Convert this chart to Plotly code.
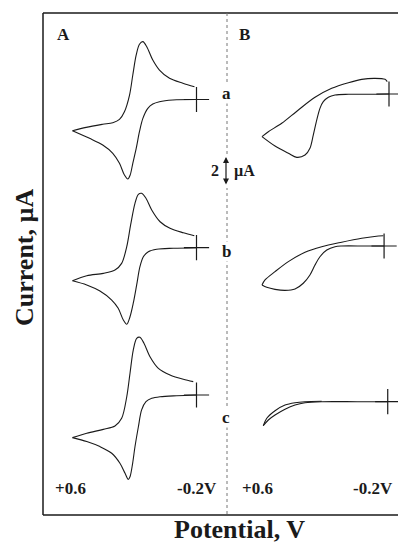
import plotly.graph_objects as go

# ---------------- data (potential in V, current in µA) ----------------
A_a_fwd_E = [-0.20, -0.047, 0.039, 0.082, 0.114, 0.146, 0.168, 0.189, 0.211, 0.228, 0.243, 0.265, 0.297, 0.340, 0.405, 0.490, 0.600]
A_a_fwd_I = [0.0, -0.03, -0.15, -0.31, -0.61, -1.30, -2.22, -3.37, -4.40, -5.21, -5.48, -5.21, -4.40, -3.71, -3.14, -2.68, -2.15]
A_a_rev_E = [0.512, 0.405, 0.340, 0.297, 0.265, 0.232, 0.211, 0.189, 0.168, 0.146, 0.121, 0.082, 0.039, -0.026, -0.112, -0.187]
A_a_rev_I = [-1.92, -1.71, -1.60, -1.37, -0.84, 0.31, 1.69, 3.07, 3.81, 3.99, 3.64, 2.72, 2.03, 1.46, 1.12, 0.88]

A_b_fwd_E = [-0.20, -0.050, 0.057, 0.111, 0.143, 0.165, 0.186, 0.208, 0.229, 0.250, 0.272, 0.305, 0.347, 0.423, 0.508, 0.600]
A_b_fwd_I = [0.0, -0.04, -0.11, -0.28, -0.62, -1.31, -2.57, -3.83, -4.76, -5.28, -4.99, -4.18, -3.61, -2.99, -2.57, -2.28]
A_b_rev_E = [0.508, 0.401, 0.326, 0.283, 0.250, 0.225, 0.197, 0.175, 0.154, 0.126, 0.089, 0.035, -0.029, -0.115, -0.186]
A_b_rev_I = [-1.93, -1.77, -1.54, -1.08, 0.07, 1.57, 3.06, 3.68, 3.75, 3.41, 2.60, 1.79, 1.34, 1.03, 0.83]

A_c_fwd_E = [-0.20, -0.072, 0.035, 0.089, 0.126, 0.154, 0.175, 0.197, 0.212, 0.229, 0.240, 0.261, 0.294, 0.347, 0.423, 0.508, 0.600]
A_c_fwd_I = [0.0, -0.05, -0.12, -0.23, -0.46, -1.03, -2.19, -3.57, -4.71, -5.64, -5.82, -5.40, -4.71, -4.02, -3.56, -3.21, -2.94]
A_c_rev_E = [0.508, 0.401, 0.326, 0.283, 0.250, 0.229, 0.208, 0.186, 0.165, 0.139, 0.100, 0.046, -0.029, -0.115, -0.179]
A_c_rev_I = [-2.64, -2.37, -2.14, -1.61, -0.12, 1.50, 3.10, 3.91, 3.98, 3.57, 2.64, 1.84, 1.38, 1.08, 0.92]

B_a_fwd_E = [-0.20, -0.070, 0.056, 0.140, 0.182, 0.214, 0.235, 0.255, 0.277, 0.298, 0.329, 0.381, 0.434, 0.518, 0.600]
B_a_fwd_I = [0.0, -0.02, -0.02, -0.07, -0.23, -0.53, -0.99, -1.79, -2.83, -3.74, -4.21, -4.37, -4.09, -3.59, -2.94]
B_a_rev_E = [0.560, 0.476, 0.371, 0.266, 0.161, 0.056, -0.028, -0.112, -0.175, -0.189]
B_a_rev_I = [-2.60, -2.02, -1.10, -0.23, 0.39, 0.78, 1.01, 1.08, 1.01, 0.85]

B_b_fwd_E = [-0.169, -0.049, 0.098, 0.140, 0.192, 0.235, 0.266, 0.298, 0.340, 0.392, 0.455, 0.518, 0.570, 0.600]
B_b_fwd_I = [0.0, 0.0, 0.0, -0.05, -0.28, -0.74, -1.31, -2.00, -2.57, -2.97, -3.06, -2.99, -2.85, -2.69]
B_b_rev_E = [0.581, 0.518, 0.434, 0.329, 0.224, 0.098, -0.028, -0.133, -0.164]
B_b_rev_I = [-2.34, -1.77, -1.08, -0.43, -0.05, 0.26, 0.53, 0.69, 0.71]

B_c_fwd_E = [-0.192, 0.000, 0.224, 0.329, 0.392, 0.455, 0.518, 0.560, 0.592]
B_c_fwd_I = [0.0, 0.0, 0.0, -0.07, -0.23, -0.52, -0.92, -1.26, -1.66]
B_c_rev_E = [0.570, 0.518, 0.455, 0.392, 0.329, 0.224]
B_c_rev_I = [-1.14, -0.62, -0.23, -0.07, 0.0, 0.03]

panel_labels = ["A", "B"]
trace_labels = ["a", "b", "c"]
potential_labels = ["+0.6", "-0.2V"]
x_title = "Potential, V"
y_title = "Current, µA"
scale_value = "2"
scale_unit = "µA"

# ---------------- layout geometry (pixels) ----------------
W, H = 398, 543
FONT = "Liberation Serif"
INK = "#1a1a1a"

def px(x):
    return x / W

def py(y):
    return 1 - y / H

PX_PER_UA = 14.5
xA = dict(left=43, right=227, tip=72.5, ppv=155.0)
xB = dict(left=227, right=398, tip=262.0, ppv=158.75)

def xrange(p):
    return [0.6 + (p["tip"] - p["left"]) / p["ppv"], 0.6 - (p["right"] - p["tip"]) / p["ppv"]]

def yrange(zero_px):
    return [(zero_px - H) / PX_PER_UA, zero_px / PX_PER_UA]

zeros = {"y": 99.5, "y2": 247.7, "y3": 395.0, "y4": 94.0, "y5": 246.0, "y6": 401.7}

curves = [
    ("x", "y", A_a_fwd_E, A_a_fwd_I, A_a_rev_E, A_a_rev_I),
    ("x", "y2", A_b_fwd_E, A_b_fwd_I, A_b_rev_E, A_b_rev_I),
    ("x", "y3", A_c_fwd_E, A_c_fwd_I, A_c_rev_E, A_c_rev_I),
    ("x2", "y4", B_a_fwd_E, B_a_fwd_I, B_a_rev_E, B_a_rev_I),
    ("x2", "y5", B_b_fwd_E, B_b_fwd_I, B_b_rev_E, B_b_rev_I),
    ("x2", "y6", B_c_fwd_E, B_c_fwd_I, B_c_rev_E, B_c_rev_I),
]

fig = go.Figure()
for xa, ya, fE, fI, rE, rI in curves:
    line = dict(color=INK, width=1.1, shape="spline", smoothing=0.9)
    fig.add_trace(go.Scatter(x=fE, y=fI, xaxis=xa, yaxis=ya, mode="lines",
                             line=line, hoverinfo="skip", showlegend=False))
    fig.add_trace(go.Scatter(x=[fE[-1]] + rE, y=[fI[-1]] + rI, xaxis=xa, yaxis=ya,
                             mode="lines", line=line, hoverinfo="skip", showlegend=False))
    fig.add_trace(go.Scatter(x=[fE[0]], y=[fI[0]], xaxis=xa, yaxis=ya, mode="markers",
                             marker=dict(symbol="cross-thin", size=18,
                                         line=dict(color=INK, width=1.2)),
                             hoverinfo="skip", showlegend=False))

layout = dict(
    width=W, height=H,
    margin=dict(l=0, r=0, t=0, b=0),
    paper_bgcolor="white", plot_bgcolor="rgba(0,0,0,0)",
    font=dict(family=FONT, color=INK),
    xaxis=dict(domain=[px(xA["left"]), px(xA["right"])], range=xrange(xA),
               visible=False, anchor="y"),
    xaxis2=dict(domain=[px(xB["left"]), px(xB["right"])], range=xrange(xB),
                visible=False, anchor="y4"),
)
for name, z in zeros.items():
    key = "yaxis" if name == "y" else "yaxis" + name[1:]
    anchor = "x" if name in ("y", "y2", "y3") else "x2"
    layout[key] = dict(domain=[0, 1], range=yrange(z), visible=False, anchor=anchor)
fig.update_layout(**layout)

# frame
top, bottom = 13, 515
frame = dict(type="line", xref="paper", yref="paper", line=dict(color=INK, width=1.5))
fig.add_shape(**frame, x0=px(43), x1=px(43), y0=py(top), y1=py(bottom))
fig.add_shape(**frame, x0=px(43), x1=1, y0=py(top), y1=py(top))
fig.add_shape(**frame, x0=px(43), x1=1, y0=py(bottom), y1=py(bottom))
fig.add_shape(type="line", xref="paper", yref="paper", x0=px(227), x1=px(227),
              y0=py(top), y1=py(bottom), line=dict(color="#777777", width=1, dash="dot"))

def label(text, x, y, size, bg=None, angle=0):
    fig.add_annotation(text="<b>%s</b>" % text, x=px(x), y=py(y), xref="paper", yref="paper",
                       showarrow=False, xanchor="center", yanchor="middle", textangle=angle,
                       font=dict(family=FONT, size=size, color=INK),
                       bgcolor=bg, borderpad=0)

label(panel_labels[0], 63, 34, 17)
label(panel_labels[1], 244, 34, 17)
for t, yy in zip(trace_labels, [93, 252, 417]):
    label(t, 226, yy, 17, bg="white")
label(potential_labels[0], 70, 488, 17)
label(potential_labels[1], 197, 488, 17)
label(potential_labels[0], 257, 488, 17)
label(potential_labels[1], 373, 488, 17)
label(x_title, 240, 529, 26)
label(y_title, 24, 258, 26, angle=-90)

# 2 µA scale bar
label(scale_value, 215, 171, 16, bg="white")
label(scale_unit, 244, 171, 16)
fig.add_shape(type="rect", xref="paper", yref="paper", x0=px(223), x1=px(230),
              y0=py(155), y1=py(188), line=dict(width=0), fillcolor="white", layer="above")
fig.add_annotation(x=px(226), y=py(157), xref="paper", yref="paper", text="",
                   showarrow=True, ax=0, ay=29, arrowside="end+start", arrowhead=2,
                   arrowsize=1, arrowwidth=1.2, arrowcolor=INK, standoff=0, startstandoff=0)

fig.write_html("out.html", config={"displayModeBar": False},
               post_script="document.body.style.margin='0';document.body.style.overflow='hidden';")
